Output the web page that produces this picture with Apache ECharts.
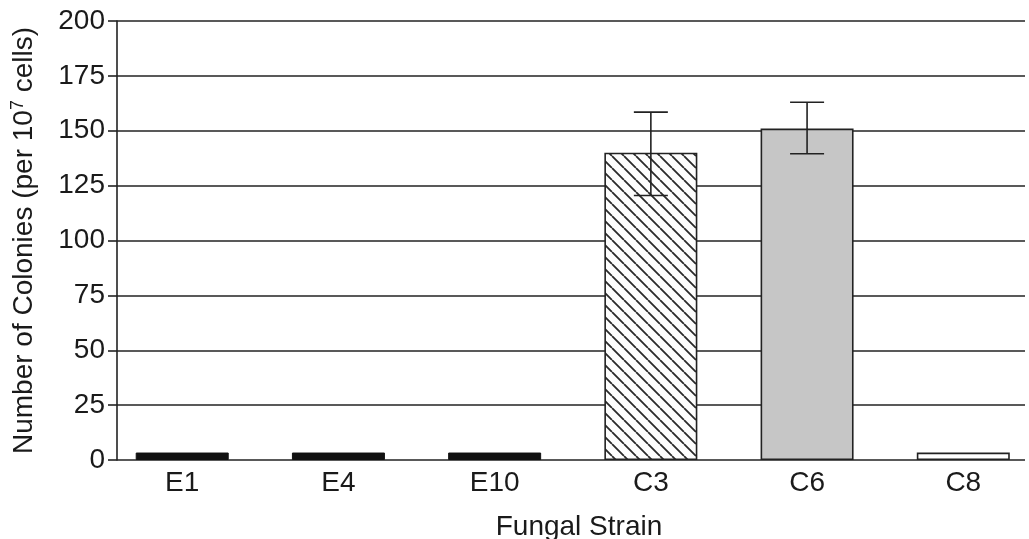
<!DOCTYPE html>
<html>
<head>
<meta charset="utf-8">
<script src="https://cdn.jsdelivr.net/npm/echarts@6/dist/echarts.min.js"></script>
<style>
  html, body { margin: 0; padding: 0; background: #fff; }
  #chart { width: 1029px; height: 539px; }
</style>
</head>
<body>
<div id="chart"></div>
<script>
// Colony counts per fungal strain
const categories = ['E1', 'E4', 'E10', 'C3', 'C6', 'C8'];
const colonies   = [3.4, 3.4, 3.4, 140, 151, 3.4];
const errorLow   = [null, null, null, 120.5, 139.5, null];
const errorHigh  = [null, null, null, 158.5, 163, null];
const yTicks     = [0, 25, 50, 75, 100, 125, 150, 175, 200];

const FONT = "'Liberation Sans', Arial, Helvetica, sans-serif";
const INK = '#1a1a1a';
const FS = 28;

// diagonal hatch fill for C3
function hatchPattern() {
  const s = 12;
  const c = document.createElement('canvas');
  c.width = s; c.height = s;
  const g = c.getContext('2d');
  g.fillStyle = '#fdfdfd';
  g.fillRect(0, 0, s, s);
  g.strokeStyle = '#2a2a2a';
  g.lineWidth = 1.8;
  g.beginPath();
  for (let k = -1; k <= 1; k++) {
    g.moveTo(k * s, 0);
    g.lineTo(k * s + s, s);
  }
  g.stroke();
  return c;
}

const barStyles = {
  E1:  { color: '#111', borderColor: '#111', borderWidth: 1 },
  E4:  { color: '#111', borderColor: '#111', borderWidth: 1 },
  E10: { color: '#111', borderColor: '#111', borderWidth: 1 },
  C3:  { color: { image: hatchPattern(), repeat: 'repeat' }, borderColor: '#222', borderWidth: 1.6 },
  C6:  { color: '#c6c6c6', borderColor: '#222', borderWidth: 1.6 },
  C8:  { color: '#ffffff', borderColor: '#222', borderWidth: 1.6 }
};

const barData = categories.map((c, i) => ({ value: colonies[i], itemStyle: barStyles[c] }));
const errData = categories
  .map((c, i) => [i, errorLow[i], errorHigh[i]])
  .filter(d => d[1] != null);

const chart = echarts.init(document.getElementById('chart'), null, { renderer: 'canvas' });

chart.setOption({
  animation: false,
  backgroundColor: '#fff',
  grid: [
    // frame: y axis, ticks and horizontal rules
    { left: 117, right: 4, top: 21, bottom: 79, outerBoundsMode: 'none', containLabel: false },
    // bars: one band per strain
    { left: 104.1, right: -12.4, top: 21, bottom: 79, outerBoundsMode: 'none', containLabel: false }
  ],
  graphic: [
    {
      type: 'text', x: 579, y: 527,
      style: {
        text: 'Fungal Strain', x: 0, y: 0, align: 'center', verticalAlign: 'middle',
        fill: INK, font: FS + 'px ' + FONT
      }
    }
  ],
  xAxis: [
    { type: 'value', gridIndex: 0, min: 0, max: 1, show: false },
    {
      type: 'category', gridIndex: 1, data: categories, boundaryGap: true,
      axisLine: { show: false }, axisTick: { show: false },
      axisLabel: { color: INK, fontSize: FS, fontFamily: FONT, margin: 9 }
    }
  ],
  yAxis: [
    {
      type: 'value', gridIndex: 0, min: 0, max: 200, interval: 25,
      axisLine: { show: true, lineStyle: { color: '#222', width: 1.6 } },
      axisTick: { show: true, length: 9, lineStyle: { color: '#222', width: 1.6 } },
      splitLine: { show: true, lineStyle: { color: '#222', width: 1.6 } },
      axisLabel: {
        color: INK, fontSize: FS, fontFamily: FONT, margin: 12,
        formatter: v => (yTicks.includes(v) ? String(v) : '')
      },
      name: '{a|Number of Colonies (per 10}{s|7}{a| cells)}',
      nameLocation: 'middle', nameGap: 78, nameRotate: 90,
      nameTextStyle: {
        rich: {
          a: { color: INK, fontSize: FS, fontFamily: FONT },
          s: { color: INK, fontSize: 18, fontFamily: FONT, verticalAlign: 'top', padding: [0, 0, 12, 0] }
        }
      }
    },
    { type: 'value', gridIndex: 1, min: 0, max: 200, show: false }
  ],
  series: [
    {
      type: 'bar', xAxisIndex: 1, yAxisIndex: 1,
      data: barData, barWidth: 93, z: 3
    },
    {
      type: 'custom', xAxisIndex: 1, yAxisIndex: 1, z: 5,
      data: errData,
      renderItem: function (params, api) {
        const x = api.value(0);
        const lo = api.coord([x, api.value(1)]);
        const hi = api.coord([x, api.value(2)]);
        const hw = 17;
        const st = { stroke: '#222', lineWidth: 1.6 };
        return {
          type: 'group',
          children: [
            { type: 'line', shape: { x1: lo[0], y1: hi[1], x2: lo[0], y2: lo[1] }, style: st },
            { type: 'line', shape: { x1: lo[0] - hw, y1: hi[1], x2: lo[0] + hw, y2: hi[1] }, style: st },
            { type: 'line', shape: { x1: lo[0] - hw, y1: lo[1], x2: lo[0] + hw, y2: lo[1] }, style: st }
          ]
        };
      }
    }
  ]
});
</script>
</body>
</html>
